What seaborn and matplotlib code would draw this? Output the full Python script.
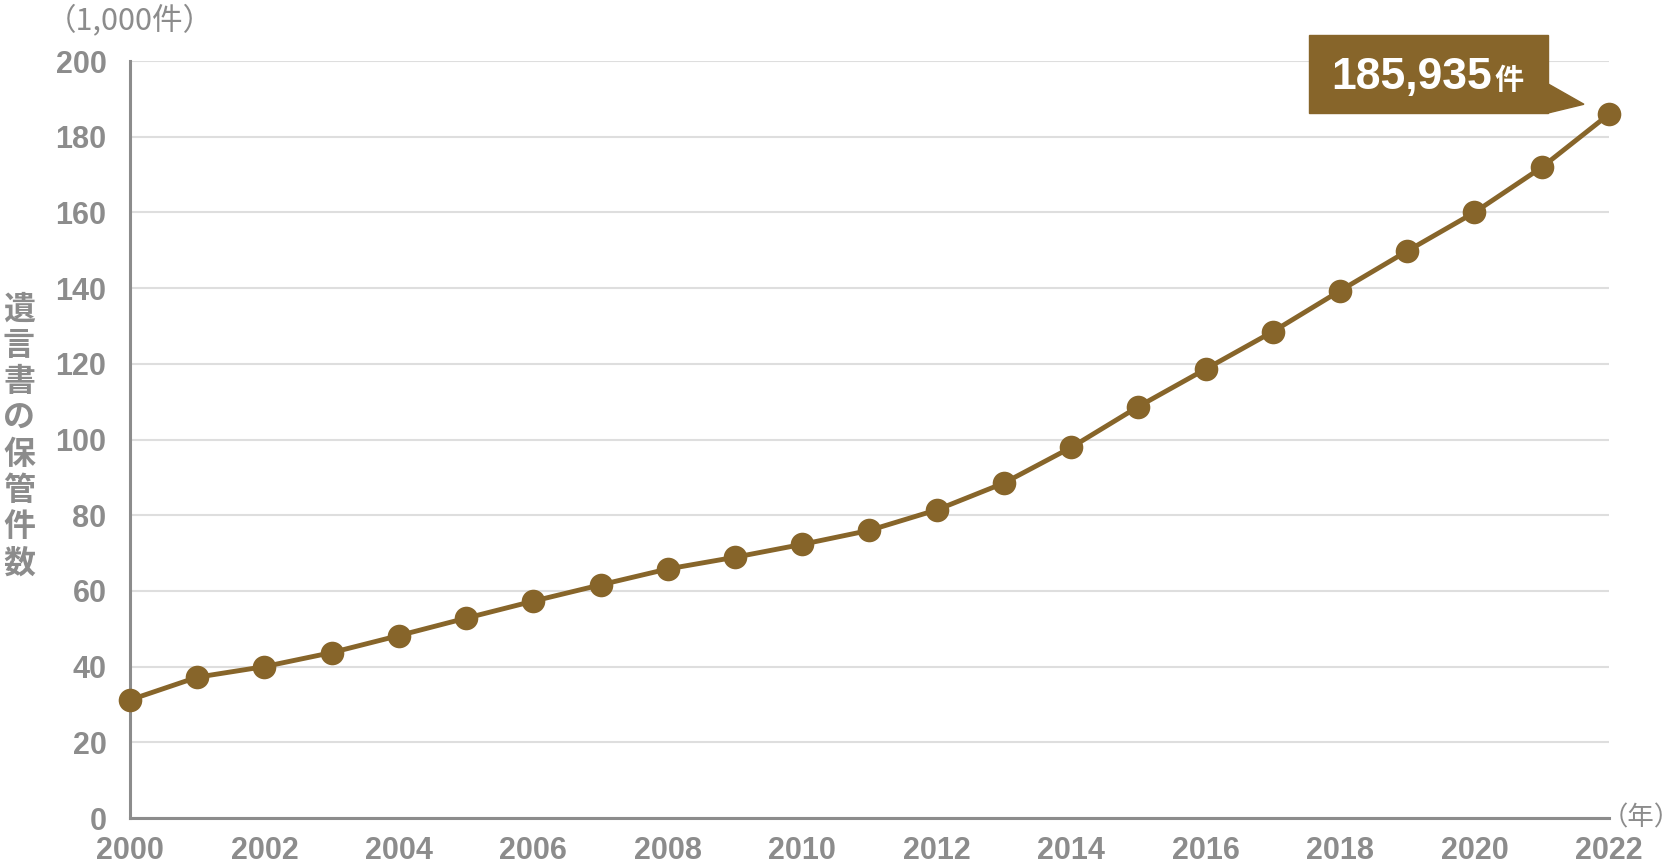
import matplotlib
matplotlib.use("Agg")
import matplotlib.pyplot as plt
import matplotlib.transforms as mtransforms
from matplotlib.patches import Polygon, Rectangle
import pandas as pd
import seaborn as sns

# data (1,000件)
years = list(range(2000, 2023))
counts = [31.2, 37.2, 40.0, 43.7, 48.2, 52.8, 57.3, 61.6, 65.8, 68.9, 72.3, 76.0,
          81.4, 88.5, 97.9, 108.7, 118.6, 128.5, 139.3, 149.8, 160.0, 171.9, 185.935]
y_ticks = [0, 20, 40, 60, 80, 100, 120, 140, 160, 180, 200]
x_labels = [str(y) if y % 2 == 0 else "" for y in years]

last_label = "185,935"
last_unit = "件"
y_title = "遺言書の保管件数"
unit_label = "（1,000件）"
x_unit = "（年）"

BROWN = "#87652a"
GRAY = "#8c8c8c"
GRID = "#dedede"
CJK = ["Noto Sans CJK JP", "DejaVu Sans"]

sns.set_style("white")
plt.rcParams["font.family"] = ["Liberation Sans", "Noto Sans CJK JP", "DejaVu Sans"]

df = pd.DataFrame({"year": years, "count": counts})

fig = plt.figure(figsize=(16.8, 8.68), dpi=100)
ax = fig.add_axes([0.0774, 0.0576, 0.8803, 0.8721])

sns.lineplot(data=df, x="year", y="count", ax=ax, color=BROWN, lw=3.5,
             marker="o", markersize=17, markeredgewidth=0, clip_on=False, zorder=3)

ax.set_xlim(2000, 2022)
ax.set_ylim(0, 200)
ax.set_yticks(y_ticks)
ax.set_xticks(years)
ax.set_xticklabels(x_labels)
ax.yaxis.grid(True, color=GRID, lw=1.5)
ax.xaxis.grid(False)
ax.set_axisbelow(True)
ax.set_xlabel("")
ax.set_ylabel("")

ax.tick_params(axis="x", direction="in", length=11, width=2.2, color=GRAY,
               pad=13, labelsize=22, labelcolor=GRAY)
ax.tick_params(axis="y", length=0, pad=17, labelsize=22, labelcolor=GRAY)
for lbl in ax.get_xticklabels() + ax.get_yticklabels():
    lbl.set_fontweight("bold")

for side in ["top", "right"]:
    ax.spines[side].set_visible(False)
for side in ["left", "bottom"]:
    ax.spines[side].set_color(GRAY)
    ax.spines[side].set_linewidth(2.2)

# axis titles
fig.text(19 / 1680, 0.497, "\n".join(y_title), ha="center", va="center",
         fontsize=23, color=GRAY, linespacing=1.17, fontweight="bold", family=CJK)
fig.text(46 / 1680, 1 - 20 / 868, unit_label, ha="left", va="center",
         fontsize=22, color=GRAY, family=CJK)
fig.text(1602 / 1680, 1 - 818 / 868, x_unit, ha="left", va="center",
         fontsize=19, color=GRAY, family=CJK)

# callout for the last value (offsets in inches from the last point)
trans = fig.dpi_scale_trans + mtransforms.ScaledTranslation(years[-1], counts[-1], ax.transData)
ax.add_patch(Rectangle((-3.00, 0.01), 2.39, 0.78, transform=trans,
                       color=BROWN, clip_on=False, zorder=4))
ax.add_patch(Polygon([(-0.62, 0.31), (-0.62, 0.01), (-0.25, 0.10)], closed=True,
                     transform=trans, color=BROWN, clip_on=False, zorder=4))
ax.text(-1.17, 0.25, last_label, transform=trans, ha="right", va="baseline",
        fontsize=32, fontweight="bold", color="white", zorder=5)
ax.text(-1.14, 0.25, last_unit, transform=trans, ha="left", va="baseline",
        fontsize=21, fontweight="bold", color="white", zorder=5, family=CJK)

fig.savefig("out.png", dpi=100)
